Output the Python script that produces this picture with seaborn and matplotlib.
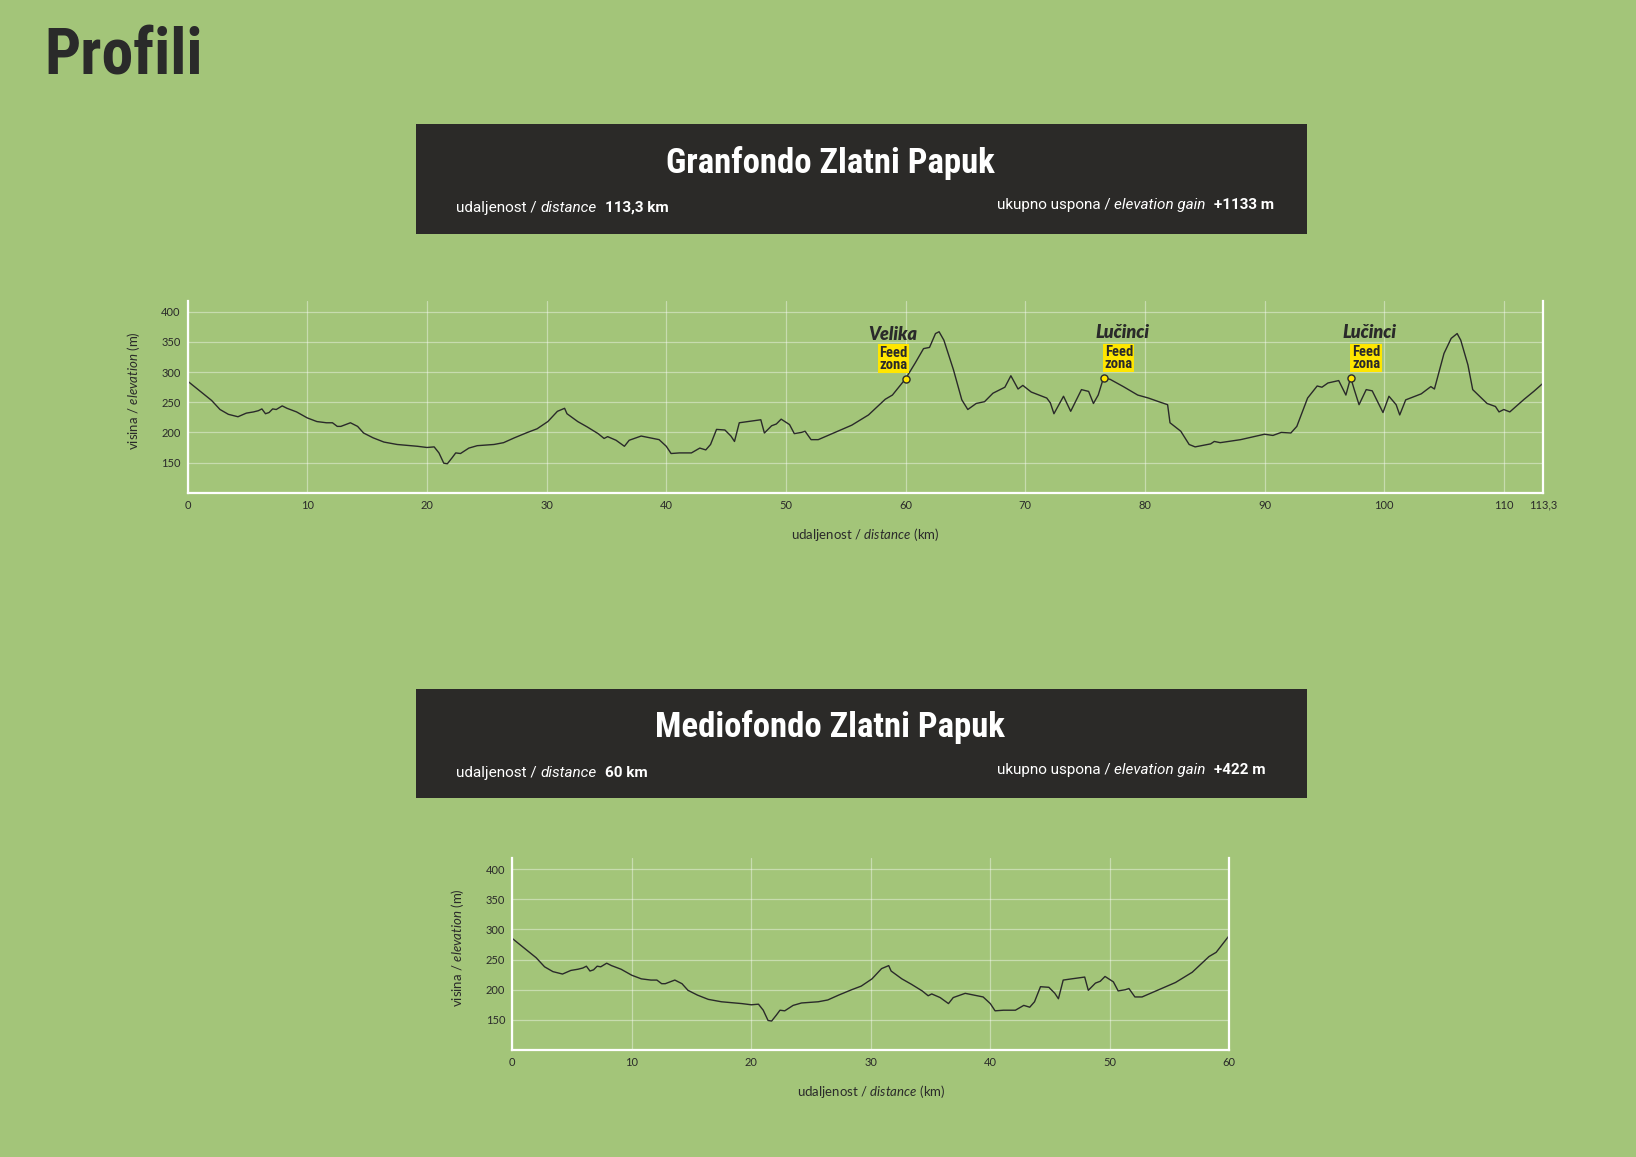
import numpy as np
import pandas as pd
import matplotlib
matplotlib.use("Agg")
import matplotlib.pyplot as plt
import seaborn as sns
from matplotlib.patches import Rectangle
from matplotlib import font_manager

# ---------------- data ----------------
granfondo_km = [0.0, 1.0, 2.0, 2.7, 3.4, 4.2, 4.9, 5.5, 5.9, 6.2, 6.5, 6.8, 7.1, 7.4, 7.9, 8.3,
                9.1, 10.0, 10.8, 11.6, 12.1, 12.5, 12.8, 13.6, 14.2, 14.7, 15.5, 16.4, 17.5,
                19.2, 20.0, 20.6, 21.0, 21.4, 21.7, 22.1, 22.4, 22.8, 23.5, 24.2, 25.6, 26.4,
                27.3, 28.4, 29.2, 30.1, 30.9, 31.5, 31.7, 32.6, 33.4, 34.3, 34.8, 35.1, 35.8,
                36.5, 36.9, 37.9, 39.4, 40.0, 40.4, 41.1, 42.1, 42.8, 43.3, 43.7, 44.2, 44.9,
                45.4, 45.7, 46.1, 46.8, 47.9, 48.2, 48.8, 49.2, 49.6, 50.3, 50.7, 51.3, 51.6,
                52.1, 52.7, 54.1, 55.5, 56.9, 58.3, 58.9, 60.0, 60.8, 61.5, 62.0, 62.5, 62.8,
                63.2, 64.0, 64.7, 65.2, 65.9, 66.6, 67.3, 68.3, 68.8, 69.4, 69.8, 70.5, 71.8,
                72.1, 72.4, 73.2, 73.8, 74.7, 75.3, 75.7, 76.1, 76.55, 77.1, 78.2, 79.4, 80.3,
                81.3, 81.9, 82.1, 83.0, 83.7, 84.2, 85.5, 85.8, 86.3, 88.0, 89.1, 90.0, 90.7,
                91.4, 92.2, 92.7, 93.6, 94.4, 94.8, 95.3, 96.2, 96.8, 97.2, 97.5, 97.9, 98.5,
                99.0, 99.9, 100.4, 101.0, 101.3, 101.8, 103.1, 103.9, 104.2, 105.0, 105.6,
                106.1, 106.4, 107.0, 107.4, 108.6, 109.3, 109.6, 110.0, 110.5, 111.7, 112.5,
                113.3]
granfondo_elev = [285, 269, 253, 238, 230, 226, 232, 234, 236, 239, 231, 233, 239, 238, 244, 240,
                  234, 224, 218, 216, 216, 210, 210, 216, 210, 199, 191, 184, 180,
                  177, 175, 176, 166, 149, 148, 158, 166, 165, 174, 178, 180, 183,
                  191, 200, 206, 218, 235, 240, 231, 218, 209, 198, 190, 193, 187,
                  177, 187, 194, 188, 177, 165, 166, 166, 174, 171, 180, 205, 204,
                  194, 185, 216, 218, 221, 199, 211, 214, 222, 213, 198, 200, 202,
                  188, 188, 200, 212, 229, 255, 262, 289, 315, 339, 341, 364, 367,
                  353, 304, 254, 238, 248, 251, 265, 275, 294, 272, 278, 267, 257,
                  249, 231, 260, 235, 271, 268, 248, 262, 291, 288, 276, 262, 257,
                  250, 246, 216, 202, 180, 176, 181, 185, 183, 188, 193, 197, 195,
                  200, 199, 210, 257, 277, 275, 282, 286, 262, 291, 271, 246, 271,
                  269, 233, 260, 246, 229, 254, 264, 276, 272, 331, 356,
                  364, 353, 312, 271, 248, 243, 234, 238, 234, 255, 268,
                  282]

mediofondo_km = [0.0, 1.0, 2.0, 2.7, 3.4, 4.2, 4.9, 5.5, 5.9, 6.2, 6.5, 6.8, 7.1, 7.4, 7.9, 8.3,
                 9.1, 10.0, 10.8, 11.6, 12.1, 12.5, 12.8, 13.6, 14.2, 14.7, 15.5, 16.4, 17.5,
                 19.2, 20.0, 20.6, 21.0, 21.4, 21.7, 22.1, 22.4, 22.8, 23.5, 24.2, 25.6, 26.4,
                 27.3, 28.4, 29.2, 30.1, 30.9, 31.5, 31.7, 32.6, 33.4, 34.3, 34.8, 35.1, 35.8,
                 36.5, 36.9, 37.9, 39.4, 40.0, 40.4, 41.1, 42.1, 42.8, 43.3, 43.7, 44.2, 44.9,
                 45.4, 45.7, 46.1, 46.8, 47.9, 48.2, 48.8, 49.2, 49.6, 50.3, 50.7, 51.3, 51.6,
                 52.1, 52.7, 54.1, 55.5, 56.9, 58.3, 58.9, 60.0]
mediofondo_elev = [285, 269, 253, 238, 230, 226, 232, 234, 236, 239, 231, 233, 239, 238, 244, 240,
                   234, 224, 218, 216, 216, 210, 210, 216, 210, 199, 191, 184, 180,
                   177, 175, 176, 166, 149, 148, 158, 166, 165, 174, 178, 180, 183,
                   191, 200, 206, 218, 235, 240, 231, 218, 209, 198, 190, 193, 187,
                   177, 187, 194, 188, 177, 165, 166, 166, 174, 171, 180, 205, 204,
                   194, 185, 216, 218, 221, 199, 211, 214, 222, 213, 198, 200, 202,
                   188, 188, 200, 212, 229, 255, 262, 290]

feed_km = [60.0, 76.55, 97.2]
feed_elev = [289, 291, 291]
feed_names = ["Velika", "Lučinci", "Lučinci"]

gran_xticks = [0, 10, 20, 30, 40, 50, 60, 70, 80, 90, 100, 110, 113.3]
gran_xticklabels = ["0", "10", "20", "30", "40", "50", "60", "70", "80", "90", "100", "110", "113,3"]
medio_xticks = [0, 10, 20, 30, 40, 50, 60]
medio_xticklabels = ["0", "10", "20", "30", "40", "50", "60"]
y_ticks = [150, 200, 250, 300, 350, 400]

page_title = "Profili"
race_titles = ["Granfondo Zlatni Papuk", "Mediofondo Zlatni Papuk"]
race_distance = ["113,3 km", "60 km"]
race_gain = ["+1133 m", "+422 m"]

# ---------------- style ----------------
BG = "#a3c579"
DARK = "#2b2a28"
INK = "#2a2a2a"
YELLOW = "#ffe600"
W, H = 1636, 1157

sns.set_theme(style="white")
plt.rcParams["font.family"] = ["Lato", "DejaVu Sans"]
plt.rcParams["mathtext.fontset"] = "custom"
plt.rcParams["mathtext.rm"] = "Lato"
plt.rcParams["mathtext.it"] = "Lato:italic"
plt.rcParams["mathtext.bf"] = "Lato:bold"

installed = {f.name for f in font_manager.fontManager.ttflist}
COND = [f for f in ["Roboto Condensed", "Open Sans Condensed", "Liberation Sans Narrow",
                    "Roboto", "DejaVu Sans"] if f in installed] or ["DejaVu Sans"]

fig = plt.figure(figsize=(W / 100, H / 100), dpi=100)
fig.patch.set_facecolor(BG)

# overlay in pixel coordinates for page decoration
ov = fig.add_axes([0, 0, 1, 1])
ov.set_xlim(0, W)
ov.set_ylim(H, 0)
ov.set_axis_off()

ov.text(44, 74, page_title, fontsize=46, fontweight="bold", family=COND,
        color=INK, ha="left", va="baseline")


def chain(x, y, pieces):
    prev = None
    for txt, props, gap in pieces:
        if prev is None:
            prev = ov.text(x, y, txt, ha="left", va="baseline", **props)
        else:
            prev = ov.annotate(txt, xy=(1, 0), xycoords=prev, xytext=(gap * 0.72, 0),
                               textcoords="offset points", ha="left", va="bottom", **props)
    return prev


def header(top, bottom, title, title_base, dist, gain, base_l, base_r):
    ov.add_patch(Rectangle((415.5, top), 1307 - 415.5, bottom - top, fc=DARK, ec="none"))
    ov.text(830, title_base, title, fontsize=25, fontweight="bold", family=COND,
            color="white", ha="center", va="baseline")
    reg = dict(family=["Roboto", "DejaVu Sans"], fontsize=11, color="white")
    ita = dict(reg, style="italic")
    bld = dict(reg, fontweight="bold")
    chain(456, base_l, [("udaljenost / ", reg, 0), ("distance", ita, 0), (dist, bld, 8)])
    chain(997, base_r, [("ukupno uspona / ", reg, 0), ("elevation gain", ita, 0), (gain, bld, 8)])


header(124, 233.5, race_titles[0], 172.7, race_distance[0], race_gain[0], 211.7, 209.3)
header(689, 798.3, race_titles[1], 737.3, race_distance[1], race_gain[1], 776.7, 774.3)


def profile_axes(left, right, axis_y, km, elev, xticks, xticklabels, xmax):
    ax = fig.add_axes([left / W, 1 - axis_y / H, (right - left) / W, 191.7 / H])
    ax.set_facecolor("none")
    df = pd.DataFrame({"km": km, "elev": elev})
    sns.lineplot(data=df, x="km", y="elev", ax=ax, color=INK, lw=1.0, estimator=None, sort=False)
    ax.set_xlim(0, xmax)
    ax.set_ylim(100, 418)
    ax.set_xticks(xticks)
    ax.set_xticklabels(xticklabels)
    ax.set_yticks(y_ticks)
    ax.grid(True, color="white", alpha=0.4, lw=0.9)
    ax.set_axisbelow(True)
    for s in ["left", "bottom", "right"]:
        ax.spines[s].set_visible(True)
        ax.spines[s].set_color("white")
        ax.spines[s].set_linewidth(1.6)
    ax.spines["top"].set_visible(False)
    ax.tick_params(length=0, labelsize=8, colors=INK, pad=5)
    ax.set_xlabel(r"udaljenost / $\mathit{distance}$ (km)", fontsize=9.5, color=INK)
    ax.set_ylabel(r"visina / $\mathit{elevation}$ (m)", fontsize=9.5, color=INK)
    return ax


ax1 = profile_axes(187.7, 1543.3, 492.7, granfondo_km, granfondo_elev,
                   gran_xticks, gran_xticklabels, 113.3)
ax1.xaxis.set_label_coords(0.5, -0.172)
ax1.yaxis.set_label_coords(-0.034, 0.535)

ax2 = profile_axes(512.3, 1229.3, 1050, mediofondo_km, mediofondo_elev,
                   medio_xticks, medio_xticklabels, 60)
ax2.xaxis.set_label_coords(0.5, -0.17)
ax2.yaxis.set_label_coords(-0.064, 0.535)

# feed zones
sns.scatterplot(x=feed_km, y=feed_elev, ax=ax1, s=26, color=YELLOW, edgecolor=INK,
                linewidth=1.0, zorder=5, legend=False)
name_off = [(-9, 32), (13.5, 32.5), (13.5, 32.5)]
box_off = [(-8.6, 14.4), (11, 14), (11, 14)]
for k, e, n, no, bo in zip(feed_km, feed_elev, feed_names, name_off, box_off):
    ax1.annotate(n, xy=(k, e), xytext=no, textcoords="offset points", ha="center", va="center",
                 fontsize=13, fontweight="heavy", style="italic", color=INK,
                 family=["Lato", "DejaVu Sans"])
    ax1.annotate("Feed\nzona", xy=(k, e), xytext=bo, textcoords="offset points",
                 ha="center", va="center", fontsize=10.5, fontweight="bold", family=COND,
                 color=INK, linespacing=0.8,
                 bbox=dict(boxstyle="square,pad=0.1", fc=YELLOW, ec="none"))

fig.savefig("out.png", dpi=100, facecolor=BG)
